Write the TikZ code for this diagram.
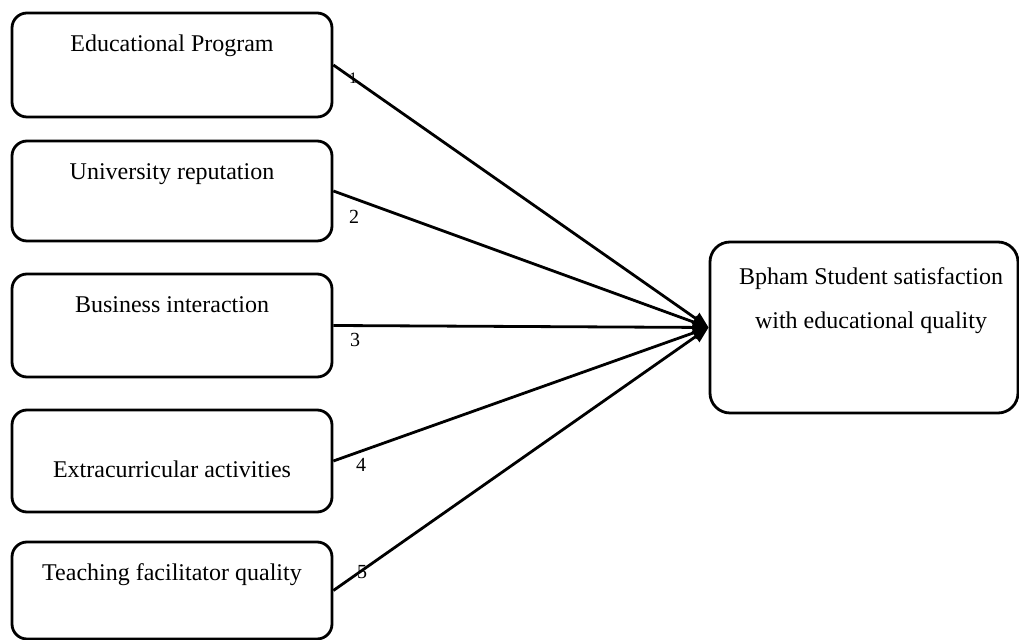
\documentclass[tikz,border=0pt]{standalone}
\usepackage{fontspec}
\setmainfont{Liberation Serif}
\usetikzlibrary{arrows.meta}
\begin{document}
\begin{tikzpicture}[x=0.5pt,y=-0.5pt,
  box/.style={draw=black,line width=1.4pt,rounded corners=7.5pt,inner sep=0pt},
  txt/.style={font=\fontsize{12}{14}\selectfont,anchor=base,inner sep=0pt},
  num/.style={font=\fontsize{10}{12}\selectfont,inner sep=0pt},
  conn/.style={line width=1.4pt,-{Triangle[length=8pt,width=6.5pt]}}]
\useasboundingbox (0,0) rectangle (1019,640);
\node[box,minimum width=160pt,minimum height=52pt] (b1) at (172,65) {};
\node[box,minimum width=160pt,minimum height=50pt] (b2) at (172,191) {};
\node[box,minimum width=160pt,minimum height=51.5pt] (b3) at (172,325.5) {};
\node[box,minimum width=160pt,minimum height=51pt] (b4) at (172,461) {};
\node[box,minimum width=160pt,minimum height=48.5pt] (b5) at (172,590.5) {};
\node[box,rounded corners=10pt,minimum width=154pt,minimum height=85.5pt] (r) at (864,327.5) {};
\node[txt] (t1) at (172,52) {Educational Program};
\node[txt] (t2) at (172,180) {University reputation};
\node[txt] (t3) at (172,313) {Business interaction};
\node[txt] (t4) at (172,478) {Extracurricular activities};
\node[txt] (t5) at (172,581) {Teaching facilitator quality};
\node[txt] (tr1) at (871,285) {Bpham Student satisfaction};
\node[txt] (tr2) at (871,329) {with educational quality};
\foreach \i in {1,...,5} \draw[conn] (b\i.east) -- (r.west);
\node[num,font=\fontsize{8}{10}\selectfont] (n1) at (353,78) {1};
\node[num] (n2) at (354,217) {2};
\node[num] (n3) at (355,340) {3};
\node[num] (n4) at (361,465) {4};
\node[num] (n5) at (362,572) {5};
\end{tikzpicture}
\end{document}
